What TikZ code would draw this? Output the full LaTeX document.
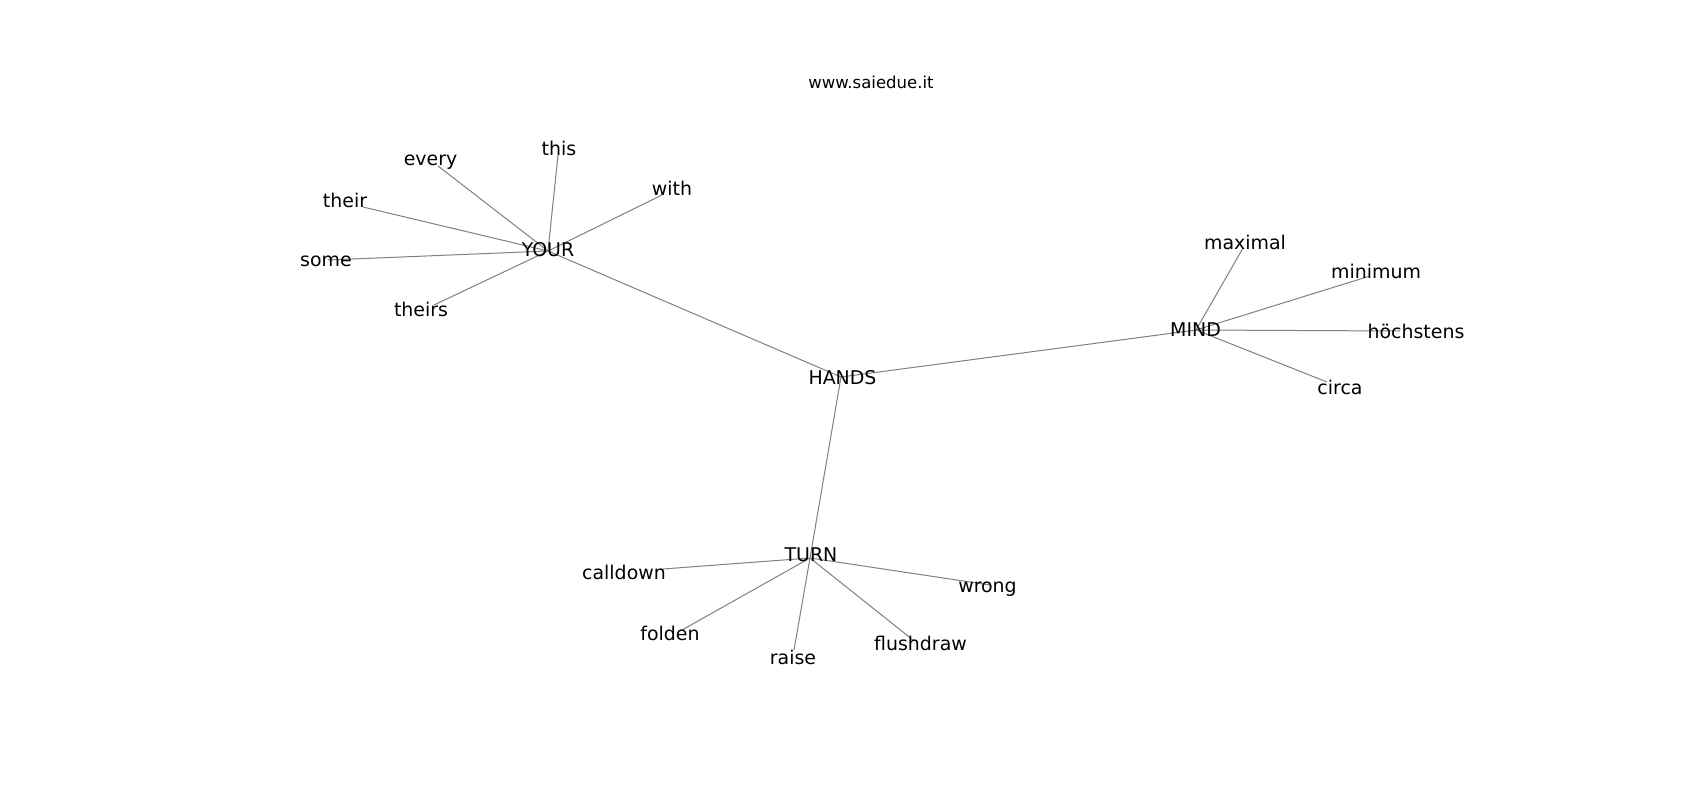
\documentclass[tikz,border=0pt]{standalone}
\usepackage{fontspec}
\setmainfont{DejaVu Sans}
\begin{document}
\begin{tikzpicture}[x=1bp,y=-1bp,
  lbl/.style={anchor=base,inner sep=0pt,font=\fontsize{19}{22}\selectfont,text=black},
  ttl/.style={anchor=base,inner sep=0pt,font=\fontsize{16.6}{19}\selectfont,text=black},
  edge/.style={draw=gray,line width=1bp}]
\useasboundingbox[fill=white] (0,0) rectangle (1700,800);
% graph vertices
\coordinate (vHANDS) at (841,377);
\coordinate (vYOUR) at (548,251);
\coordinate (vMIND) at (1196,330);
\coordinate (vTURN) at (810,558);
\coordinate (vevery) at (438,166);
\coordinate (vthis) at (558,155);
\coordinate (vwith) at (662,195);
\coordinate (vtheir) at (363,207);
\coordinate (vsome) at (328,260);
\coordinate (vtheirs) at (434,305);
\coordinate (vmaximal) at (1243,248);
\coordinate (vminimum) at (1370,276);
\coordinate (vhoch) at (1400,331);
\coordinate (vcirca) at (1327,382);
\coordinate (vcalldown) at (663,569);
\coordinate (vfolden) at (682,630);
\coordinate (vraise) at (794,650);
\coordinate (vflush) at (913,640);
\coordinate (vwrong) at (990,585);
% edges
\foreach \a/\b in {HANDS/YOUR,HANDS/MIND,HANDS/TURN,
  YOUR/every,YOUR/this,YOUR/with,YOUR/their,YOUR/some,YOUR/theirs,
  MIND/maximal,MIND/minimum,MIND/hoch,MIND/circa,
  TURN/calldown,TURN/folden,TURN/raise,TURN/flush,TURN/wrong}
  \draw[edge] (v\a) -- (v\b);
% labels
\node[ttl] (title) at (871,88) {www.saiedue.it};
\node[lbl] (lHANDS) at (842.5,384.5) {HANDS};
\node[lbl] (lYOUR) at (548,256) {YOUR};
\node[lbl] (lMIND) at (1195.5,336.5) {MIND};
\node[lbl] (lTURN) at (811,561) {TURN};
\node[lbl] (levery) at (430.5,165) {every};
\node[lbl] (lthis) at (559,155) {this};
\node[lbl] (lwith) at (672,195) {with};
\node[lbl] (ltheir) at (345,207) {their};
\node[lbl] (lsome) at (326,266) {some};
\node[lbl] (ltheirs) at (421,316) {theirs};
\node[lbl] (lmaximal) at (1245,249.5) {maximal};
\node[lbl] (lminimum) at (1376,278.5) {minimum};
\node[lbl] (lhoch) at (1416,338.5) {höchstens};
\node[lbl] (lcirca) at (1340,394) {circa};
\node[lbl] (lcalldown) at (624,579.5) {calldown};
\node[lbl] (lfolden) at (670,640) {folden};
\node[lbl] (lraise) at (793,664.5) {raise};
\node[lbl] (lflush) at (920.5,650.5) {flushdraw};
\node[lbl] (lwrong) at (987.5,592) {wrong};
\end{tikzpicture}
\end{document}
